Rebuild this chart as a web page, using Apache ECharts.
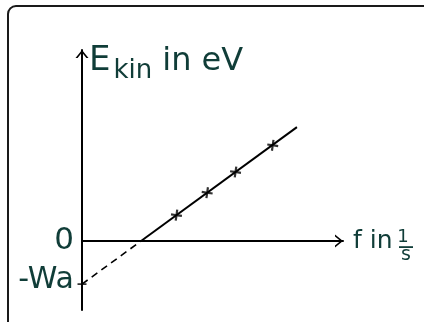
<!DOCTYPE html>
<html>
<head>
<meta charset="utf-8">
<script src="https://cdn.jsdelivr.net/npm/echarts@6/dist/echarts.min.js"></script>
<style>
  html, body { margin: 0; padding: 0; background: #fff; }
  #chart { width: 424px; height: 322px; }
</style>
</head>
<body>
<div id="chart"></div>
<script>
// measured points (f, E_kin) in arbitrary units, -Wa = -1
const freq = [1.6, 2.12, 2.6, 3.23]
const energy = [0.6, 1.12, 1.6, 2.22]
// fitted line, solid part and extrapolated part
const fitF = [1, 3.64]
const fitE = [0, 2.64]
const extraF = [0, 1]
const extraE = [-1, 0]
// y axis labels
const yTickValues = [-1, 0]
const yTickLabels = ['-Wa', '0']

const textColor = '#103d38'
const font = '"DejaVu Sans", sans-serif'
const chevronUp = 'path://M0,8 L6.5,0 L13,8 L10.9,8 L6.5,2.5 L2.1,8 Z'
const plus = 'path://M4,0 H6 V4 H10 V6 H6 V10 H4 V6 H0 V4 H4 Z'

const zip = (a, b) => a.map((v, i) => [v, b[i]])

const chart = echarts.init(document.getElementById('chart'))

chart.setOption({
  animation: false,
  grid: { left: 82, right: 81, top: 50, bottom: 12 },
  xAxis: {
    type: 'value',
    min: 0,
    max: 4.42,
    splitLine: { show: false },
    axisTick: { show: false },
    axisLabel: { show: false },
    axisLine: {
      onZero: true,
      lineStyle: { color: '#000', width: 2 },
      symbol: ['none', chevronUp],
      symbolSize: [15, 8],
      symbolOffset: [0, -4]
    },
    name: 'f in',
    nameLocation: 'end',
    nameGap: 10,
    nameTextStyle: { color: textColor, fontFamily: font, fontSize: 25, padding: [0, 0, 2, 0] }
  },
  yAxis: {
    type: 'value',
    min: -1.6,
    max: 4.43,
    splitLine: { show: false },
    axisTick: { show: false },
    axisLabel: {
      customValues: yTickValues,
      margin: 8,
      color: textColor,
      fontFamily: font,
      fontSize: 31,
      formatter: (v) => {
        const label = yTickLabels[yTickValues.indexOf(v)]
        return v === 0 ? label : '{w|' + label + '}'
      },
      rich: {
        w: { color: textColor, fontFamily: font, fontSize: 30, padding: [0, 0, 8, 0] }
      }
    },
    axisLine: {
      onZero: true,
      lineStyle: { color: '#000', width: 2 },
      symbol: ['none', chevronUp],
      symbolSize: [13, 8],
      symbolOffset: [0, -4]
    },
    name: '{e|E}{k|kin}{t|in eV}',
    nameLocation: 'end',
    nameGap: 6,
    nameTextStyle: {
      align: 'left',
      verticalAlign: 'top',
      padding: [0, 0, 0, 7],
      rich: {
        e: { color: textColor, fontFamily: font, fontSize: 34, lineHeight: 34, verticalAlign: 'top' },
        k: { color: textColor, fontFamily: font, fontSize: 26, lineHeight: 26, verticalAlign: 'top', padding: [14, 10, 0, 3] },
        t: { color: textColor, fontFamily: font, fontSize: 32, lineHeight: 34, verticalAlign: 'top', padding: [2, 0, 0, 0] }
      }
    }
  },
  series: [
    {
      type: 'line',
      data: zip(fitF, fitE),
      symbol: 'none',
      lineStyle: { color: '#000', width: 2 },
      silent: true
    },
    {
      type: 'line',
      data: zip(extraF, extraE),
      symbol: 'none',
      lineStyle: { color: '#000', width: 1.6, type: [7, 5] },
      silent: true
    },
    {
      type: 'scatter',
      data: zip(freq, energy),
      symbol: plus,
      symbolSize: 11,
      symbolRotate: -8,
      itemStyle: { color: '#000' }
    },
    {
      type: 'scatter',
      data: [[extraF[0], extraE[0]]],
      symbol: 'rect',
      symbolSize: [9, 1.8],
      itemStyle: { color: '#000' }
    }
  ],
  graphic: [
    {
      type: 'rect',
      shape: { x: 8, y: 6, width: 440, height: 340, r: 8 },
      style: { fill: 'none', stroke: '#1a1a1a', lineWidth: 2 },
      silent: true
    },
    {
      type: 'text',
      x: 403, y: 237,
      style: { text: '1', fill: textColor, fontFamily: font, fontSize: 18, align: 'center', verticalAlign: 'middle' }
    },
    {
      type: 'rect',
      shape: { x: 399, y: 246.2, width: 14, height: 1.8 },
      style: { fill: textColor }
    },
    {
      type: 'text',
      x: 406, y: 255,
      style: { text: 's', fill: textColor, fontFamily: font, fontSize: 19, align: 'center', verticalAlign: 'middle' }
    }
  ]
})
</script>
</body>
</html>
